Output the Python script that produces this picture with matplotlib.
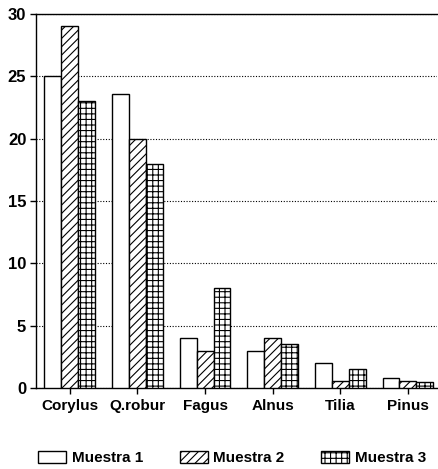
import matplotlib
matplotlib.use("Agg")
import matplotlib.pyplot as plt
import numpy as np

categories = ["Corylus", "Q.robur", "Fagus", "Alnus", "Tilia", "Pinus"]
muestra1 = [25, 23.6, 4, 3, 2, 0.8]
muestra2 = [29, 20, 3, 4, 0.6, 0.6]
muestra3 = [23, 18, 8, 3.5, 1.5, 0.5]
series_labels = ["Muestra 1", "Muestra 2", "Muestra 3"]
yticks = [0, 5, 10, 15, 20, 25, 30]

plt.rcParams['font.family'] = ['Liberation Sans', 'DejaVu Sans']
plt.rcParams['font.weight'] = 'bold'
plt.rcParams['hatch.linewidth'] = 0.8

fig = plt.figure(figsize=(4.38, 4.69), dpi=100)
ax = fig.add_axes([36/438, 81/469, (437-36)/438, (388-14)/469])

x = np.arange(len(categories))
w = 0.25
hatches = ["", "////", "+++"]
for i, (vals, lab) in enumerate(zip([muestra1, muestra2, muestra3], series_labels)):
    ax.bar(x + (i - 1) * w, vals, width=w, color="white", edgecolor="black",
           linewidth=1.0, hatch=hatches[i], label=lab, zorder=3)

ax.set_xlim(-0.5, 5.43)
ax.set_ylim(0, 30)
ax.set_yticks(yticks)
ax.set_yticklabels([str(t) for t in yticks], fontsize=12, fontweight='bold')
ax.set_xticks(x)
ax.set_xticklabels(categories, fontsize=11, fontweight='bold')
ax.tick_params(axis='both', direction='out', length=4, width=1, color='black')
ax.tick_params(axis='x', pad=4)
ax.tick_params(axis='y', pad=3)

ax.yaxis.grid(True, linestyle=(0, (1, 1.5)), color='black', linewidth=0.8, zorder=0)
ax.set_axisbelow(True)
ax.spines["right"].set_visible(False)
for s in ["left", "bottom", "top"]:
    ax.spines[s].set_linewidth(1.0)

leg = fig.legend(loc='center', bbox_to_anchor=(232/438, 1 - 458/469), ncol=3,
                 frameon=False, handlelength=1.85, handleheight=0.85,
                 handletextpad=0.35, columnspacing=2.4,
                 prop={'weight': 'bold', 'size': 11})

fig.savefig("out.png", dpi=100)
